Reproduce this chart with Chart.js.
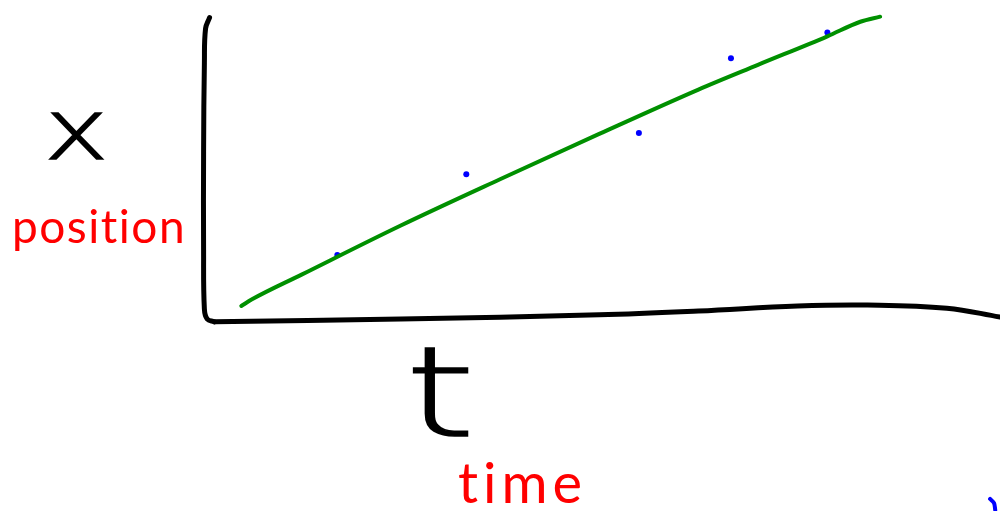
<!DOCTYPE html>
<html>
<head>
<meta charset="utf-8">
<title>position vs time</title>
<script src="https://cdn.jsdelivr.net/npm/chart.js@4"></script>
<style>
  html, body { margin: 0; padding: 0; background: #ffffff; }
  #sketch { display: block; }
</style>
</head>
<body>
<canvas id="sketch" width="1004" height="515"></canvas>
<script>
// measured points (t, x) - blue dots
const measuredT = [1.65, 3.275, 5.45, 6.61, 7.825];
const measuredX = [2.08, 4.63, 5.93, 8.29, 9.10];

// hand drawn best fit line (green)
const fitT = [0.44, 0.575, 1.2, 2.45, 3.7, 4.95, 6.2, 6.95, 7.825, 8.24, 8.49];
const fitX = [0.47, 0.68, 1.46, 3.01, 4.47, 5.90, 7.30, 8.08, 8.98, 9.44, 9.60];

// the sketched axes
const yAxisT = [0.04, -0.01, -0.025, -0.035, -0.035, -0.025, 0.01, 0.1];
const yAxisX = [9.57, 9.23, 8.14, 5.34, 2.24, 0.37, 0.06, -0.03];
const xAxisT = [0.1, 2.45, 4.95, 6.2, 7.45, 8.33, 9.33, 10.0];
const xAxisX = [-0.03, 0.06, 0.19, 0.31, 0.47, 0.50, 0.40, 0.12];

// stray blue stroke in the corner
const strayT = [9.875, 9.925, 9.94];
const strayX = [-5.62, -5.75, -5.97];

function pares(ts, xs) {
    return ts.map((t, i) => ({ x: t, y: xs[i] }));
}

// big handwritten letters are wider and bolder than the font
function letraLarga(ctx, texto, x, y, esticar) {
    ctx.save();
    ctx.translate(x, y);
    ctx.scale(esticar, 1);
    ctx.fillText(texto, 0, 0);
    ctx.strokeText(texto, 0, 0);
    ctx.restore();
}

const rotulos = {
    id: "rotulos",
    afterDatasetsDraw(chart) {
        const ctx = chart.ctx;
        ctx.save();
        ctx.textBaseline = "alphabetic";

        ctx.fillStyle = "#000000";
        ctx.strokeStyle = "#000000";
        ctx.lineWidth = 1.5;
        ctx.font = "200 84px 'DejaVu Sans'";
        letraLarga(ctx, "x", 44, 159, 1.3);

        ctx.font = "200 124px 'DejaVu Sans'";
        letraLarga(ctx, "t", 405, 436, 1.45);

        ctx.fillStyle = "#ff0000";
        ctx.letterSpacing = "1.5px";
        ctx.font = "46px Lato";
        ctx.fillText("position", 12, 243);

        ctx.letterSpacing = "5px";
        ctx.font = "56px Lato";
        ctx.fillText("time", 458, 503);

        ctx.restore();
    }
};

new Chart(document.getElementById("sketch"), {

    type: "scatter",

    data: {
        datasets: [
            {
                data: pares(yAxisT, yAxisX),
                showLine: true,
                borderColor: "#000000",
                borderWidth: 5,
                borderCapStyle: "round",
                tension: 0.4,
                pointRadius: 0
            },
            {
                data: pares(xAxisT, xAxisX),
                showLine: true,
                borderColor: "#000000",
                borderWidth: 5,
                borderCapStyle: "round",
                tension: 0.4,
                pointRadius: 0
            },
            {
                data: pares(fitT, fitX),
                showLine: true,
                borderColor: "#009000",
                borderWidth: 4,
                borderCapStyle: "round",
                cubicInterpolationMode: "monotone",
                pointRadius: 0
            },
            {
                data: pares(measuredT, measuredX),
                backgroundColor: "#0000ff",
                borderWidth: 0,
                pointRadius: 3
            },
            {
                data: pares(strayT, strayX),
                showLine: true,
                borderColor: "#0000ff",
                borderWidth: 4,
                borderCapStyle: "round",
                tension: 0.3,
                pointRadius: 0
            }
        ]
    },

    options: {
        responsive: false,
        animation: false,
        layout: { padding: 0 },
        scales: {
            x: { type: "linear", min: -2.55, max: 10, display: false },
            y: { type: "linear", min: -6, max: 10, display: false }
        },
        plugins: {
            legend: { display: false },
            tooltip: { enabled: false }
        }
    },

    plugins: [rotulos]
});
</script>
</body>
</html>
